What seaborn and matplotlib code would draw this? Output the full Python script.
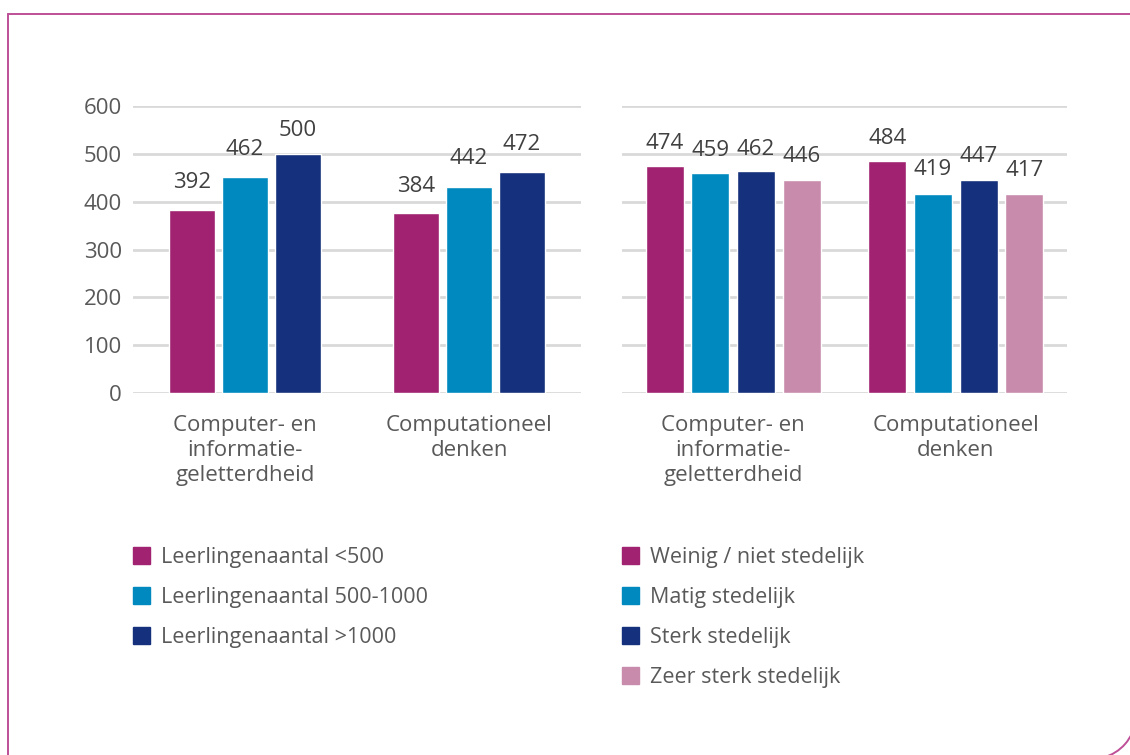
import seaborn as sns
import matplotlib.pyplot as plt
import pandas as pd
from matplotlib.lines import Line2D
from matplotlib.patches import Arc

# data
categories = ['Computer- en\ninformatie-\ngeletterdheid', 'Computationeel\ndenken']

size_groups = ['Leerlingenaantal <500', 'Leerlingenaantal 500-1000', 'Leerlingenaantal >1000']
size_bars = [[383, 377], [452, 431], [500, 462]]        # bar heights as drawn
size_labels = [[392, 384], [462, 442], [500, 472]]      # printed values

urban_groups = ['Weinig / niet stedelijk', 'Matig stedelijk', 'Sterk stedelijk', 'Zeer sterk stedelijk']
urban_bars = [[475, 485], [460, 416], [464, 445], [445, 416]]
urban_labels = [[474, 484], [459, 419], [462, 447], [446, 417]]

y_ticks = [0, 100, 200, 300, 400, 500, 600]

colors = ['#A02270', '#0089BE', '#15307C', '#C88BAC']


def long_df(groups, bars):
    rows = []
    for g, vals in zip(groups, bars):
        for c, v in zip(categories, vals):
            rows.append({'cat': c, 'group': g, 'score': v})
    return pd.DataFrame(rows)


sns.set_style('white')
plt.rcParams['font.family'] = ['Open Sans', 'DejaVu Sans']

fig = plt.figure(figsize=(11.3, 7.55), dpi=100)
ax1 = fig.add_axes([133 / 1130, 362 / 755, 448 / 1130, 287 / 755])
ax2 = fig.add_axes([622 / 1130, 362 / 755, 445 / 1130, 287 / 755])

panels = [
    (ax1, size_groups, size_bars, size_labels, 0.711, 0.13),
    (ax2, urban_groups, urban_bars, urban_labels, 0.821, 0.167),
]

for ax, groups, bars, labels, w, gap in panels:
    df = long_df(groups, bars)
    sns.barplot(data=df, x='cat', y='score', hue='group', hue_order=groups,
                palette=colors[:len(groups)], width=w, gap=gap, saturation=1,
                legend=False, ax=ax)
    for cont, labs in zip(ax.containers, labels):
        for bar, lab in zip(cont, labs):
            ax.annotate(str(lab), (bar.get_x() + bar.get_width() / 2, lab),
                        xytext=(0, 9), textcoords='offset points',
                        ha='center', va='bottom', fontsize=16, color='#404040')
    ax.set_ylim(0, 600)
    ax.set_yticks(y_ticks)
    ax.grid(axis='y', color='#D9D9D9', linewidth=2)
    ax.set_axisbelow(True)
    sns.despine(ax=ax, left=True, bottom=True)
    ax.set_xlabel('')
    ax.set_ylabel('')
    ax.tick_params(axis='both', length=0, labelsize=16, labelcolor='#595959')
    ax.tick_params(axis='y', pad=8)
    ax.tick_params(axis='x', pad=16)
    for t in ax.get_xticklabels():
        t.set_linespacing(1.25)

ax2.set_yticklabels([])

# legends
for x0, groups in [(133 / 1130, size_groups), (622 / 1130, urban_groups)]:
    handles = [plt.Rectangle((0, 0), 1, 1, color=c) for c in colors[:len(groups)]]
    fig.legend(handles, groups, loc='upper left', bbox_to_anchor=(x0, 1 - 547 / 755),
               frameon=False, fontsize=15.5, labelcolor='#595959', borderpad=0,
               borderaxespad=0, handlelength=0.8, handleheight=0.8,
               handletextpad=0.5, labelspacing=0.88)

# frame around the chart
bc = '#BE4F98'
fig.add_artist(Line2D([8 / 1130, 8 / 1130], [0, 1 - 14 / 755], color=bc, lw=1.4,
                      transform=fig.transFigure))
fig.add_artist(Line2D([8 / 1130, 1], [1 - 14 / 755, 1 - 14 / 755], color=bc, lw=1.4,
                      transform=fig.transFigure))
fig.add_artist(Arc((1092 / 1130, 40 / 755), 88 / 1130, 88 / 755, theta1=280, theta2=350,
                   color=bc, lw=1.4, transform=fig.transFigure))

fig.savefig('out.png', dpi=100)
